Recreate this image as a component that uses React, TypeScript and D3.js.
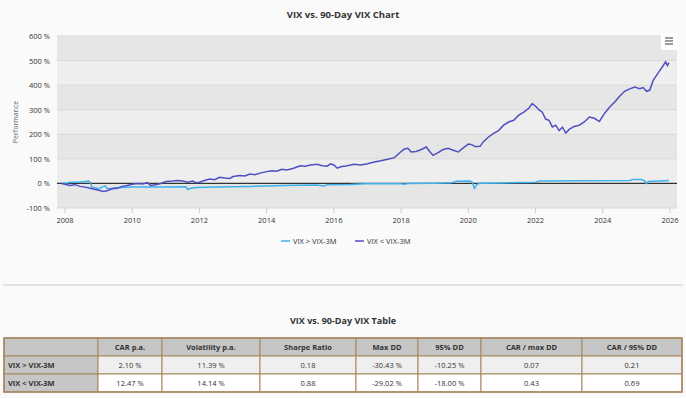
import React from 'react';
import * as d3 from 'd3';

// performance in %, [decimal year, value]
const vixBelow: [number, number][] = [
  [2007.9, 0], [2008.0, -3], [2008.15, -8], [2008.3, -5], [2008.45, -12], [2008.6, -15], [2008.75, -20],
  [2008.9, -25], [2009.0, -28], [2009.15, -33], [2009.25, -30], [2009.4, -22], [2009.55, -20], [2009.7, -12],
  [2009.85, -8], [2010.0, -3], [2010.15, 0], [2010.3, -2], [2010.45, 3], [2010.55, -8], [2010.7, -5],
  [2010.85, 0], [2011.0, 8], [2011.2, 10], [2011.35, 12], [2011.5, 10], [2011.65, 5], [2011.8, 10],
  [2011.9, 3], [2012.0, 5], [2012.15, 12], [2012.3, 18], [2012.45, 15], [2012.6, 25], [2012.75, 22],
  [2012.9, 20], [2013.0, 28], [2013.2, 32], [2013.35, 30], [2013.5, 38], [2013.65, 35], [2013.8, 42],
  [2014.0, 48], [2014.15, 52], [2014.3, 50], [2014.45, 58], [2014.6, 55], [2014.8, 62], [2015.0, 72],
  [2015.15, 70], [2015.3, 75], [2015.5, 78], [2015.65, 72], [2015.8, 70], [2015.9, 80], [2016.0, 75],
  [2016.1, 62], [2016.2, 68], [2016.4, 72], [2016.6, 78], [2016.8, 75], [2017.0, 80], [2017.2, 87],
  [2017.4, 92], [2017.6, 98], [2017.8, 105], [2018.0, 130], [2018.1, 140], [2018.2, 143], [2018.3, 128],
  [2018.45, 130], [2018.6, 138], [2018.75, 148], [2018.85, 130], [2018.95, 114], [2019.1, 125],
  [2019.25, 138], [2019.4, 143], [2019.55, 135], [2019.7, 128], [2019.85, 145], [2020.0, 160],
  [2020.1, 158], [2020.2, 150], [2020.35, 151], [2020.45, 170], [2020.6, 189], [2020.75, 204],
  [2020.9, 215], [2021.05, 237], [2021.2, 250], [2021.35, 257], [2021.5, 278], [2021.65, 290],
  [2021.8, 306], [2021.9, 325], [2022.0, 314], [2022.1, 300], [2022.2, 290], [2022.3, 262],
  [2022.4, 257], [2022.5, 230], [2022.6, 237], [2022.7, 215], [2022.8, 229], [2022.9, 205],
  [2023.0, 220], [2023.15, 232], [2023.3, 237], [2023.45, 250], [2023.6, 270], [2023.75, 265],
  [2023.9, 252], [2024.05, 285], [2024.2, 310], [2024.35, 330], [2024.5, 355], [2024.65, 375],
  [2024.8, 385], [2024.95, 392], [2025.1, 385], [2025.2, 390], [2025.3, 375], [2025.4, 380],
  [2025.5, 420], [2025.6, 440], [2025.7, 460], [2025.8, 480], [2025.87, 495], [2025.92, 480], [2025.97, 492],
];

const vixAbove: [number, number][] = [
  [2007.9, 0], [2008.05, 2], [2008.15, 5], [2008.4, 5], [2008.6, 8], [2008.7, 10], [2008.75, 5],
  [2008.8, -15], [2008.9, -18], [2009.0, -22], [2009.1, -15], [2009.2, -10], [2009.25, -20],
  [2009.35, -22], [2009.5, -18], [2009.7, -17], [2010.0, -15], [2011.0, -15], [2011.6, -14],
  [2011.65, -25], [2011.75, -20], [2011.9, -17], [2012.5, -15], [2013.5, -12], [2014.5, -8],
  [2015.5, -6], [2015.7, -10], [2015.8, -5], [2016.5, -4], [2016.9, -1], [2018.0, -1], [2018.1, -3],
  [2018.2, 0], [2019.0, 1], [2019.5, 3], [2019.65, 9], [2020.05, 10], [2020.12, 5], [2020.18, -20],
  [2020.25, -5], [2020.35, 1], [2021.0, 2], [2022.0, 5], [2022.1, 10], [2024.8, 12], [2024.9, 16],
  [2025.15, 16], [2025.25, 10], [2025.3, 0], [2025.35, 8], [2025.97, 12],
];

const yTicks = [600, 500, 400, 300, 200, 100, 0, -100];
const xTicks = [2008, 2010, 2012, 2014, 2016, 2018, 2020, 2022, 2024, 2026];

const seriesNames = ['VIX > VIX-3M', 'VIX < VIX-3M'];
const seriesColors = ['#3fb1ef', '#4f4fc4'];

const tableColumns = ['', 'CAR p.a.', 'Volatility p.a.', 'Sharpe Ratio', 'Max DD', '95% DD', 'CAR / max DD', 'CAR / 95% DD'];
const tableRows = [
  ['VIX > VIX-3M', '2.10 %', '11.39 %', '0.18', '-30.43 %', '-10.25 %', '0.07', '0.21'],
  ['VIX < VIX-3M', '12.47 %', '14.14 %', '0.88', '-29.02 %', '-18.00 %', '0.43', '0.69'],
];

export default function App() {
  const W = 686;
  const H = 398;
  const plot = { left: 57, right: 677, top: 36, bottom: 208 };
  const font = '"Open Sans", sans-serif';

  const x = d3.scaleLinear().domain([2008, 2026]).range([65, 670]);
  const y = d3.scaleLinear().domain([-100, 600]).range([plot.bottom, plot.top]);

  const line = d3.line<[number, number]>()
    .x(d => x(d[0]))
    .y(d => y(d[1]));

  // table column edges
  const colEdges = [4, 98, 162, 260, 356, 418, 481, 582, 682];
  const rowEdges = [338, 356, 374, 392];
  const border = '#a6865f';

  return (
    <svg width={W} height={H} style={{ position: 'absolute', left: 0, top: 0 }} fontFamily={font}>
      <rect width={W} height={H} fill="#fafafa" />
      <text x={343} y={18} textAnchor="middle" fontSize={9.5} fontWeight="bold" fill="#333">
        VIX vs. 90-Day VIX Chart
      </text>

      {/* plot bands */}
      {yTicks.slice(0, -1).map((t, i) => (
        <rect key={'b' + t} x={plot.left} width={plot.right - plot.left}
          y={y(t)} height={y(yTicks[i + 1]) - y(t)}
          fill={i % 2 === 0 ? '#e6e6e6' : '#eeeeee'} />
      ))}
      {yTicks.map(t => (
        <line key={'g' + t} x1={plot.left} x2={plot.right} y1={y(t)} y2={y(t)}
          stroke={t === 0 ? '#333' : '#d8d8d8'} strokeWidth={t === 0 ? 1.2 : 1} />
      ))}
      {yTicks.map(t => (
        <text key={'yl' + t} x={50} y={y(t) + 3} textAnchor="end" fontSize={7.5} fill="#333">
          {t} %
        </text>
      ))}
      <text transform={`translate(18,${(plot.top + plot.bottom) / 2}) rotate(-90)`} textAnchor="middle"
        fontSize={7} fill="#666">Performance</text>

      {xTicks.map(t => (
        <g key={'x' + t}>
          <line x1={x(t)} x2={x(t)} y1={plot.bottom} y2={plot.bottom + 5} stroke="#ccc" />
          <text x={x(t)} y={plot.bottom + 15} textAnchor="middle" fontSize={7.5} fill="#333">{t}</text>
        </g>
      ))}

      <path d={line(vixAbove) || ''} fill="none" stroke={seriesColors[0]} strokeWidth={1.5} />
      <path d={line(vixBelow) || ''} fill="none" stroke={seriesColors[1]} strokeWidth={1.5} />

      {/* menu button */}
      <rect x={661} y={33} width={16} height={17} fill="#fff" />
      {[38, 41, 44].map(v => (
        <line key={'m' + v} x1={665} x2={673} y1={v} y2={v} stroke="#666" strokeWidth={1.3} />
      ))}

      {/* legend */}
      {seriesNames.map((n, i) => (
        <g key={n} transform={`translate(${281 + i * 74},241)`}>
          <line x1={0} x2={9} y1={0} y2={0} stroke={seriesColors[i]} strokeWidth={1.5} />
          <text x={12} y={3} fontSize={7.5} fill="#333">{n}</text>
        </g>
      ))}

      <line x1={3} x2={683} y1={285} y2={285} stroke="#d8d8d8" strokeWidth={1.5} />

      <text x={343} y={324} textAnchor="middle" fontSize={9} fontWeight="bold" fill="#333">
        VIX vs. 90-Day VIX Table
      </text>

      {/* table */}
      {[tableColumns, ...tableRows].map((row, ri) => (
        <g key={'r' + ri}>
          {row.map((cell, ci) => {
            const x0 = colEdges[ci];
            const x1 = colEdges[ci + 1];
            const y0 = rowEdges[ri];
            const y1 = rowEdges[ri + 1];
            let fill = '#ffffff';
            if (ri === 0 || ci === 0) fill = '#c6c6c6';
            else if (ri === 1) fill = '#efefef';
            const bold = ri === 0 || ci === 0;
            return (
              <g key={'c' + ci}>
                <rect x={x0} y={y0} width={x1 - x0} height={y1 - y0} fill={fill} stroke={border} strokeWidth={1} />
                <text x={ci === 0 ? x0 + 4 : (x0 + x1) / 2} y={(y0 + y1) / 2 + 2.8}
                  textAnchor={ci === 0 ? 'start' : 'middle'} fontSize={7.5}
                  fontWeight={bold ? 'bold' : 'normal'} fill="#333">{cell}</text>
              </g>
            );
          })}
        </g>
      ))}
      <rect x={colEdges[0]} y={rowEdges[0]} width={colEdges[8] - colEdges[0]} height={rowEdges[3] - rowEdges[0]}
        fill="none" stroke={border} strokeWidth={1.5} />
    </svg>
  );
}
